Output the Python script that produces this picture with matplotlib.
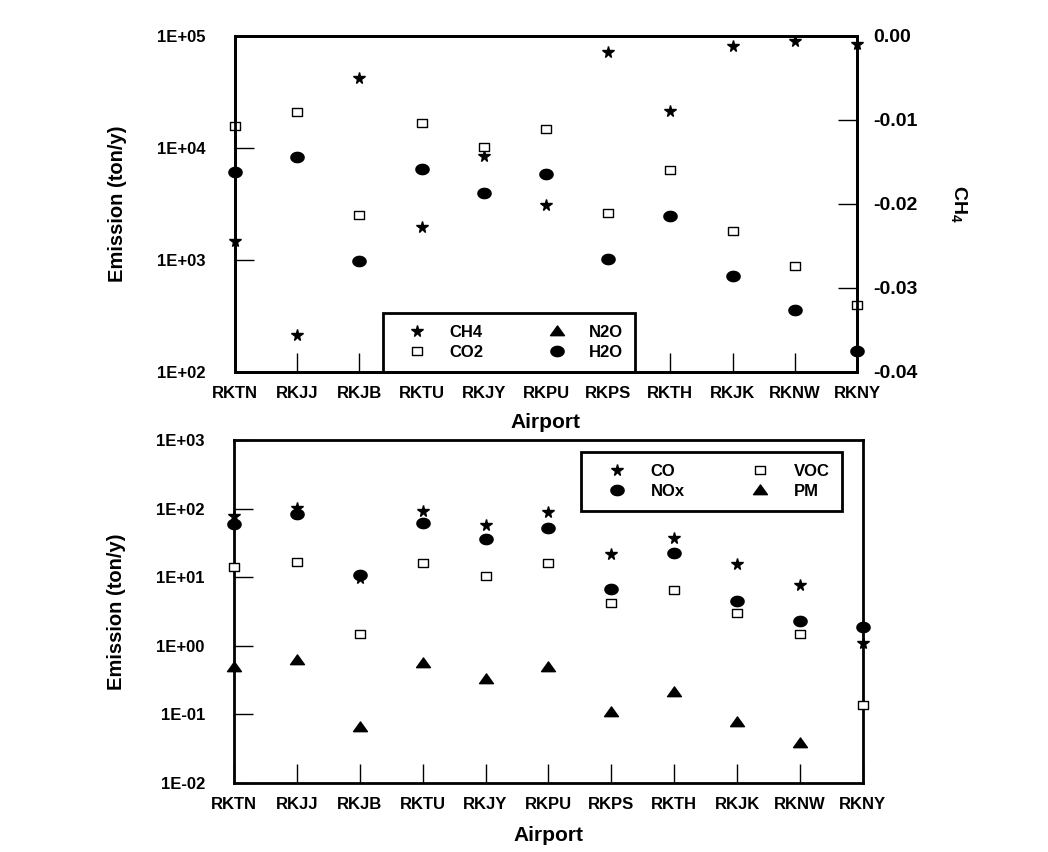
import matplotlib
matplotlib.use("Agg")
import matplotlib.pyplot as plt
from matplotlib.path import Path
import numpy as np

plt.rcParams['font.family'] = ['Liberation Sans', 'DejaVu Sans']
plt.rcParams['font.weight'] = 'bold'
plt.rcParams['mathtext.fontset'] = 'custom'
plt.rcParams['mathtext.bf'] = 'Liberation Sans:bold'

airports = ["RKTN", "RKJJ", "RKJB", "RKTU", "RKJY", "RKPU", "RKPS", "RKTH", "RKJK", "RKNW", "RKNY"]

# top panel (ton/y)
ch4 = [1490, 215, 42400, 1970, 8490, 3080, 72400, 21500, 82000, 90300, 84900]
co2 = [15800, 21100, 2510, 16800, 10100, 14900, 2650, 6360, 1830, 889, 394]
h2o = [6150, 8260, 986, 6530, 3940, 5860, 1030, 2490, 715, 356, 154]
n2o = []  # below the plotted range, only shown in legend

# bottom panel (ton/y)
co = [78.8, 103, 9.6, 91, 57.7, 89, 22, 37.3, 15.6, 7.6, 1.09]
nox = [60, 84, 10.8, 61.6, 36, 52.7, 6.8, 22.8, 4.55, 2.28, 1.9]
voc = [14.2, 16.8, 1.5, 16.3, 10.4, 16.3, 4.25, 6.6, 3.04, 1.5, 0.139]
pm = [0.485, 0.62, 0.066, 0.555, 0.324, 0.485, 0.11, 0.21, 0.077, 0.038]

ch4_ticks = [0.00, -0.01, -0.02, -0.03, -0.04]

x = np.arange(len(airports))

# slightly flattened marker shapes like the original plot
t = np.linspace(0, 2 * np.pi, 60)
ellipse = Path(np.c_[np.cos(t), 0.78 * np.sin(t)], closed=True)
rect = Path([(-1, -0.78), (1, -0.78), (1, 0.78), (-1, 0.78), (-1, -0.78)], closed=True)
flat_tri = Path([(-1, -0.6), (1, -0.6), (0, 0.8), (-1, -0.6)], closed=True)

star = dict(marker='*', ls='none', color='black', ms=8.5, clip_on=False, zorder=5)
square = dict(marker=rect, ls='none', mfc='white', mec='black', mew=1.0, ms=7, clip_on=False, zorder=5)
circle = dict(marker=ellipse, ls='none', color='black', ms=9.5, clip_on=False, zorder=5)
tri = dict(marker=flat_tri, ls='none', color='black', ms=10, clip_on=False, zorder=5)

fig = plt.figure(figsize=(10.48, 8.52), dpi=100)
ax1 = fig.add_axes([0.2242, 0.5634, 0.5935, 0.3944])
ax2 = fig.add_axes([0.2233, 0.0810, 0.6000, 0.4026])


def style_axis(ax):
    for s in ax.spines.values():
        s.set_linewidth(2.0)
    ax.set_xlim(0, len(airports) - 1)
    ax.set_xticks(x)
    ax.set_xticklabels(airports, fontsize=12, fontweight='bold')
    ax.tick_params(axis='x', which='major', direction='in', length=14, width=1.0, pad=10)
    ax.tick_params(axis='y', which='major', direction='in', length=14, width=1.0, pad=21, labelsize=12)
    ax.tick_params(axis='y', which='minor', length=0)
    for lab in ax.get_yticklabels():
        lab.set_fontweight('bold')


def make_legend(ax, handles, labels, anchor, loc, hl):
    leg = ax.legend(handles, labels, ncol=2, loc=loc, bbox_to_anchor=anchor, frameon=True,
                    fancybox=False, edgecolor='black', framealpha=1, fontsize=12,
                    handlelength=hl, handletextpad=0.62, columnspacing=3.1, borderpad=0.72,
                    labelspacing=0.32, borderaxespad=0)
    leg.get_frame().set_linewidth(2.0)
    return leg


# top
ax1.set_yscale('log')
ax1.set_ylim(1e2, 1e5)
l1, = ax1.plot(x, ch4, **star)
l2, = ax1.plot(x, co2, **square)
l3, = ax1.plot(n2o, n2o, **tri)
l4, = ax1.plot(x, h2o, **circle)
ax1.set_yticks([1e2, 1e3, 1e4, 1e5])
ax1.set_yticklabels(["1E+02", "1E+03", "1E+04", "1E+05"])
style_axis(ax1)
ax1.set_ylabel("Emission (ton/y)", fontsize=14.5, fontweight='bold', labelpad=22)
ax1.set_xlabel("Airport", fontsize=15, fontweight='bold', labelpad=9)
make_legend(ax1, [l1, l2, l3, l4], ["CH4", "CO2", "N2O", "H2O"], (0.238, 0.0), 'lower left', 2.64)

axr = ax1.twinx()
axr.set_ylim(-0.04, 0.0)
axr.set_yticks(ch4_ticks)
axr.set_yticklabels(["%.2f" % v for v in ch4_ticks], fontsize=14, fontweight='bold')
axr.tick_params(axis='y', direction='in', length=14, width=1.0, pad=12)
for s in axr.spines.values():
    s.set_linewidth(2.0)
axr.set_ylabel(r"CH$_\mathbf{4}$", fontsize=14, fontweight='bold', rotation=270, labelpad=36)

# bottom
ax2.set_yscale('log')
ax2.set_ylim(1e-2, 1e3)
m1, = ax2.plot(x, co, **star)
m2, = ax2.plot(x, nox, **circle)
m3, = ax2.plot(x, voc, **square)
m4, = ax2.plot(x[:len(pm)], pm, **tri)
ax2.set_yticks([1e-2, 1e-1, 1e0, 1e1, 1e2, 1e3])
ax2.set_yticklabels(["1E-02", "1E-01", "1E+00", "1E+01", "1E+02", "1E+03"])
style_axis(ax2)
ax2.set_ylabel("Emission (ton/y)", fontsize=14.5, fontweight='bold', labelpad=22)
ax2.set_xlabel("Airport", fontsize=15, fontweight='bold', labelpad=10)
make_legend(ax2, [m1, m2, m3, m4], ["CO", "NOx", "VOC", "PM"], (0.5517, 0.965), 'upper left', 2.84)

fig.savefig("out.png", dpi=100)
